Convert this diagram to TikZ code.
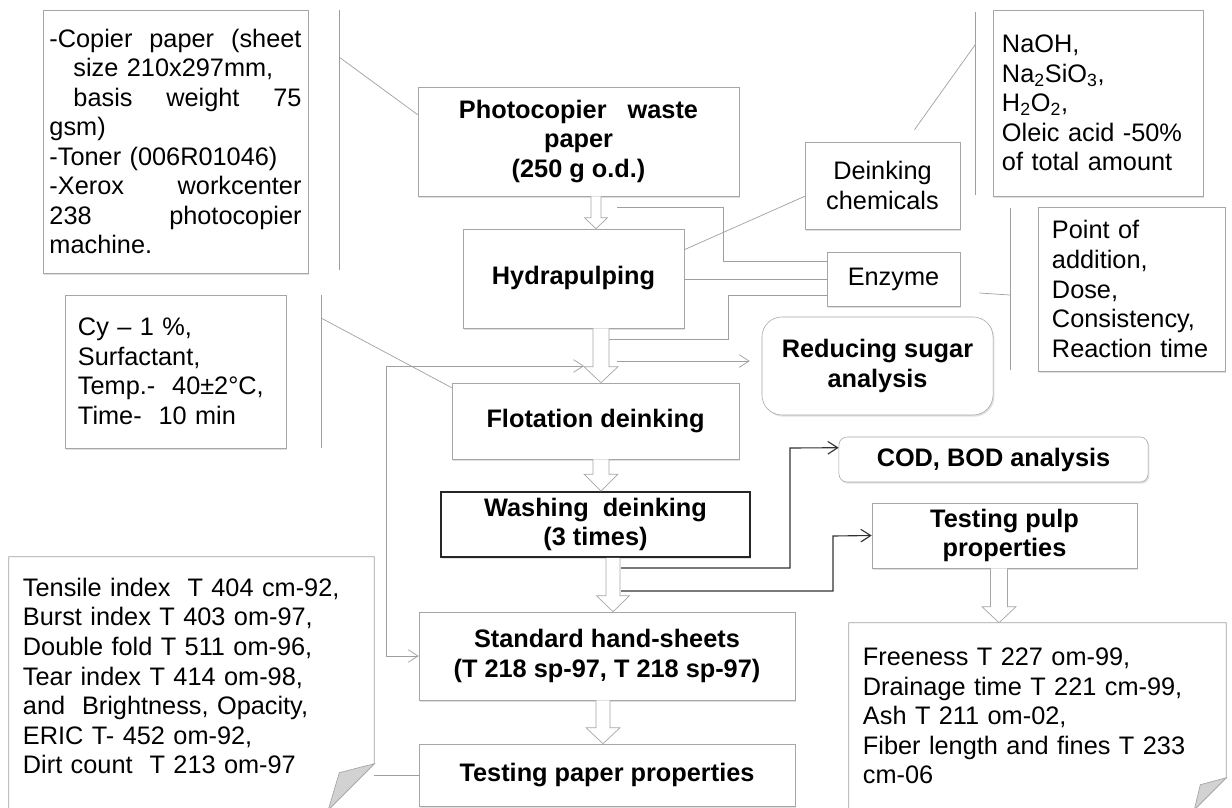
\documentclass[tikz,border=0pt]{standalone}
\usepackage{fontspec}
\setmainfont{Liberation Sans}
\usetikzlibrary{calc,arrows.meta,shadows}

% block arrow: from, to, x, shaft half width, head half width, head length
\newcommand{\hollowarrow}[6]{%
  \draw[hollow] (#3-#4,0 |- #1.south) -- ($(#3-#4,0 |- #2.north)+(0,-#6)$)
    -- ($(#3-#5,0 |- #2.north)+(0,-#6)$) -- (#3,0 |- #2.north)
    -- ($(#3+#5,0 |- #2.north)+(0,-#6)$) -- ($(#3+#4,0 |- #2.north)+(0,-#6)$)
    -- (#3+#4,0 |- #1.south);}

\begin{document}
\begin{tikzpicture}[x=0.025cm, y=-0.025cm,
    box/.style={rectangle, draw=gray!70, fill=white, font=\fontsize{18}{21}\selectfont, align=center, inner sep=2pt,
        drop shadow={shadow xshift=1pt, shadow yshift=-1.2pt, opacity=0.3, fill=black!40}},
    title/.style={box, font=\fontsize{18}{21}\selectfont\bfseries},
    listbox/.style={box, align=left},
    note/.style={rectangle, font=\fontsize{18}{21}\selectfont, align=left, inner xsep=0.35cm},
    leader/.style={gray!75, line width=0.5pt},
    fold/.style={fill=gray!35, draw=gray!70, line width=0.5pt},
    arrow/.style={leader, -{Straight Barb[length=7pt, width=9pt]}},
    twoway/.style={leader, {Straight Barb[length=7pt, width=9pt]}-{Straight Barb[length=7pt, width=9pt]}},
    darkarrow/.style={black!80, line width=0.8pt, -{Straight Barb[length=7pt, width=9pt]}},
    hollow/.style={draw=gray!70, fill=white, line width=0.5pt}
]
\useasboundingbox (0,0) rectangle (1232,808);

% Raw material
\node[listbox, text width=6.3cm, minimum width=6.625cm, minimum height=6.575cm] (paperspec) at (175.5,141.5)
  {-Copier\hfill paper\hfill (sheet\\
   \hspace*{0.6cm}size 210x297mm,\\
   \hspace*{0.6cm}basis\hfill weight\hfill 75\\
   gsm)\\
   -Toner (006R01046)\\
   -Xerox\hfill workcenter\\
   238\hfill photocopier\\
   machine.};
\node[title, minimum width=8.025cm, minimum height=2.725cm] (photo) at (578.5,141.5)
  {Photocopier~~~waste\\paper\\(250 g o.d.)};

% Pulping and chemicals
\node[title, minimum width=5.525cm, minimum height=2.475cm] (hydra) at (573.5,278.5) {Hydrapulping};
\node[box, minimum width=3.875cm, minimum height=2.175cm] (chem) at (882.5,185.5) {Deinking\\chemicals};
\node[listbox, text width=4.8cm, minimum width=5.25cm, minimum height=4.65cm] (chemlist) at (1098,103)
  {NaOH,\\
   Na\textsubscript{2}SiO\textsubscript{3},\\
   H\textsubscript{2}O\textsubscript{2},\\
   Oleic acid -50\%\\
   of total amount};
\node[box, minimum width=3.325cm, minimum height=1.35cm] (enzyme) at (893.5,279) {Enzyme};
\node[listbox, text width=3.975cm, minimum width=4.675cm, minimum height=4.1cm] (enzparam) at (1131.5,289)
  {Point of\\addition,\\Dose,\\Consistency,\\Reaction time};
\node[title, rounded corners=0.5cm, minimum width=5.775cm, minimum height=2.45cm] (sugar) at (877.5,366)
  {Reducing sugar\\analysis};

% Deinking
\node[listbox, text width=4.875cm, minimum width=5.525cm, minimum height=3.825cm] (flotparam) at (175.5,371.5)
  {Cy -- 1 \%,\\Surfactant,\\Temp.-\ \ 40±2°C,\\Time-\ \ 10 min};
\node[title, minimum width=7.175cm, minimum height=1.9cm] (flot) at (595.5,421) {Flotation deinking};
\node[title, draw=black!85, line width=1.2pt, minimum width=7.725cm, minimum height=1.625cm] (wash) at (595.5,524.5)
  {Washing~~deinking\\(3 times)};
\node[title, rounded corners=0.2cm, minimum width=7.725cm, minimum height=1.125cm] (cod) at (993.5,459.5) {COD, BOD analysis};
\node[title, minimum width=6.625cm, minimum height=1.625cm] (pulp) at (1004.5,535.5) {Testing pulp\\properties};

% Hand-sheets and testing
\node[title, minimum width=9.4cm, minimum height=2.2cm] (sheets) at (607,656)
  {Standard hand-sheets\\(T 218 sp-97, T 218 sp-97)};
\node[title, minimum width=9.4cm, minimum height=1.55cm] (paper) at (607,775) {Testing paper properties};
\node[note, text width=8.425cm, minimum width=9.125cm, minimum height=5.95cm] (paperlist) at (191.5,676)
  {Tensile index\ \ T 404 cm-92,\\
   Burst index T 403 om-97,\\
   Double fold T 511 om-96,\\
   Tear index T 414 om-98,\\
   and\ \ Brightness, Opacity,\\
   ERIC T- 452 om-92,\\
   Dirt count\ \ T 213 om-97};
\node[note, text width=8.725cm, minimum width=9.425cm, minimum height=4.65cm] (pulplist) at (1037.5,716)
  {Freeness T 227 om-99,\\
   Drainage time T 221 cm-99,\\
   Ash T 211 om-02,\\
   Fiber length and fines T 233\\
   cm-06};

% Note outlines with folded corner
\draw[leader] (paperlist.north west) -- (paperlist.north east) -- ++(0,207) -- ++(-46,46)
  -- ($(paperlist.north west)+(0,253)$) -- cycle;
\draw[fold] ($(paperlist.north east)+(0,207)$) -- ++(-35,9) -- ++(-11,37) -- cycle;
\draw[leader] (pulplist.north west) -- (pulplist.north east) -- ++(0,155) -- ++(-32,32)
  -- ($(pulplist.north west)+(0,187)$) -- cycle;
\draw[fold] ($(pulplist.north east)+(0,155)$) -- ++(-26,7) -- ++(-6,25) -- cycle;

% Callout bars and leaders
\coordinate (specbar) at (339,57);
\coordinate (chembar) at (975,45);
\coordinate (enzbar) at (1010,295);
\coordinate (flotbar) at (321,318);
\draw[leader] (339,10) -- (339,270);
\draw[leader] (975,12) -- (975,195);
\draw[leader] (1010,208) -- (1010,370);
\draw[leader] (321,295) -- (321,448);
\draw[leader] (specbar) -- ($(photo.north west)+(0,28)$);
\draw[leader] (chembar) -- ($(chem.north)+(32,-12)$);
\draw[leader] (enzbar) -- ($(enzyme.east)+(19,14)$);
\draw[leader] (flotbar) -- ($(flot.north west)+(0,5)$);
\draw[leader] ($(hydra.north east)+(0,21)$) -- ($(chem.south west)+(0,-33)$);
\draw[leader] (paper.west) -- (paper.west -| paperlist.east);

% Enzyme addition points
\coordinate (enzA) at (617,207);
\coordinate (enzC) at (607,339);
\draw[leader] ($(enzyme.north west)+(0,10)$) -| (723,207) -- (enzA);
\draw[leader] (enzyme.west) -- (enzyme.west -| hydra.east);
\draw[leader] ($(enzyme.south west)+(0,-11)$) -| (728,339) -- (enzC);

% Arrows
\coordinate (sugarin) at (617,361);
\coordinate (recyc) at (584,366);
\coordinate (washA) at (621,568);
\coordinate (washB) at (621,591);
\draw[arrow, shorten >=0.3cm] (sugarin) -- (sugarin -| sugar.west);
\draw[twoway] (recyc) -- (386,366) |- (sheets.west);
\draw[darkarrow] (washA) -| (790,448) -- ($(cod.north west)+(0,11)$);
\draw[darkarrow] (washB) -| (833,536) -- (pulp.west);

\hollowarrow{photo}{hydra}{596}{5}{11.5}{11}
\hollowarrow{hydra}{flot}{601}{8}{17}{16}
\hollowarrow{flot}{wash}{601}{8}{17}{17}
\hollowarrow{wash}{sheets}{613}{7}{16.5}{16}
\hollowarrow{sheets}{paper}{603}{7}{17}{16}
\hollowarrow{pulp}{pulplist}{999}{8.5}{17}{16}

\end{tikzpicture}
\end{document}
